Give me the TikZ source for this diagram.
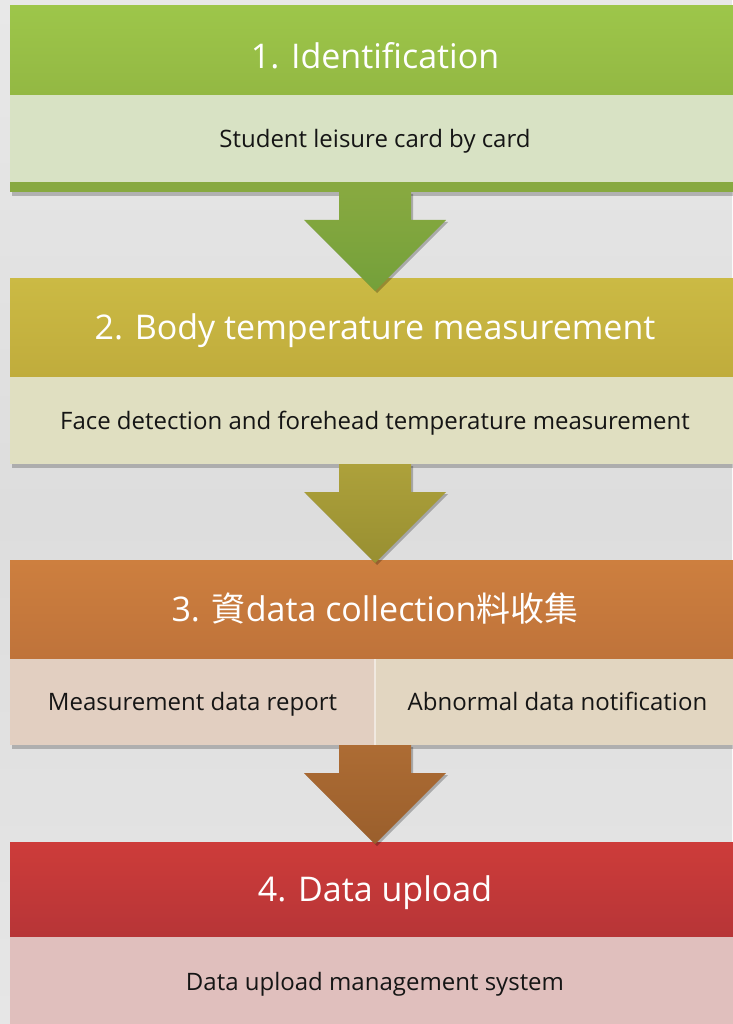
\documentclass[tikz,border=0pt]{standalone}
\usepackage{fontspec}
\setmainfont{Open Sans}
\newfontfamily\cjk{Noto Sans CJK TC}
\usetikzlibrary{calc,shadows}
\definecolor{bgA}{HTML}{E8E8E8}
\definecolor{bgB}{HTML}{DDDDDD}
\definecolor{bgC}{HTML}{E6E6E6}
\definecolor{gA}{HTML}{9DC64A}
\definecolor{gB}{HTML}{93B843}
\definecolor{gBody}{HTML}{D8E2C4}
\definecolor{gStrip}{HTML}{87A940}
\definecolor{gArA}{HTML}{87A940}
\definecolor{gArB}{HTML}{74A03A}
\definecolor{yA}{HTML}{CBBA44}
\definecolor{yB}{HTML}{C0AC3C}
\definecolor{yBody}{HTML}{E0DFC1}
\definecolor{yArA}{HTML}{ADA13B}
\definecolor{yArB}{HTML}{988F31}
\definecolor{oA}{HTML}{CD7F3F}
\definecolor{oB}{HTML}{BF733A}
\definecolor{oBodyL}{HTML}{E2CFC1}
\definecolor{oBodyR}{HTML}{E2D6C1}
\definecolor{oArA}{HTML}{AD6C34}
\definecolor{oArB}{HTML}{9A5F2C}
\definecolor{rA}{HTML}{CD3C3A}
\definecolor{rB}{HTML}{B73537}
\definecolor{rBody}{HTML}{E0BFBD}
\definecolor{txt}{HTML}{151515}
\tikzset{
  hdrtext/.style={text=white, font=\fontsize{34}{40}\selectfont, text height=24.5pt, text depth=0pt},
  hdr/.style={hdrtext, anchor=north west, minimum width=730pt, inner sep=0pt, outer sep=0pt},
  det/.style={anchor=north west, minimum width=730pt, inner sep=0pt, outer sep=0pt,
    text=txt, font=\fontsize{24}{29}\selectfont, text height=17.3pt, text depth=0pt},
  boxshadow/.style={fill=black, opacity=0.22},
  blockarrow/.style={drop shadow={shadow xshift=2pt, shadow yshift=-2pt, opacity=0.25, fill=black}}
}
\newcommand{\downarrowat}[3]{%
  \path[blockarrow, top color=#2, bottom color=#3]
    (#1) ++(-36,0) -- ++(0,28) -- ++(-35,0) -- ++(71,71) -- ++(71,-71) -- ++(-35,0) -- ++(0,-28) -- cycle;}
\begin{document}
\begin{tikzpicture}[x=1pt,y=-1pt]
\useasboundingbox (0,0) rectangle (732,1024);
\shade[top color=bgA, bottom color=bgC, middle color=bgB] (0,0) rectangle (732,1024);

% ---- step 1
\fill[boxshadow] (12,9) rectangle (744,196);
\fill[gStrip] (10,6) rectangle (742,192);
\node[hdr, minimum height=89pt, top color=gA, bottom color=gB] (h1) at (10,6) {};
\node[hdrtext, inner sep=0pt] (t1) at ($(h1.center)+(0,6)$) {1. Identification};
\node[det, minimum height=87pt, fill=gBody] (d1) at (h1.south west) {Student leisure card by card};
\coordinate (s1) at (375,192);

% ---- step 2
\fill[boxshadow] (12,281) rectangle (744,468);
\node[hdr, minimum height=99pt, top color=yA, bottom color=yB] (h2) at (10,278) {2. Body temperature measurement};
\node[det, minimum height=87pt, fill=yBody] (d2) at (h2.south west) {Face detection and forehead temperature measurement};

% ---- step 3
\fill[boxshadow] (12,563) rectangle (744,749);
\node[hdr, minimum height=99pt, top color=oA, bottom color=oB] (h3) at (10,560) {3. {\cjk 資}data collection{\cjk 料收集}};
\node[det, minimum width=365pt, minimum height=86pt, fill=oBodyL] (d3a) at (h3.south west) {Measurement data report};
\node[det, minimum width=365pt, minimum height=86pt, fill=oBodyR] (d3b) at (d3a.north east) {Abnormal data notification};
\draw[white, opacity=0.5, line width=1.2pt] (d3a.north east) -- (d3a.south east);

% ---- step 4
\fill[boxshadow] (12,845) rectangle (744,1030);
\node[hdr, minimum height=95pt, top color=rA, bottom color=rB] (h4) at (10,842) {4. Data upload};
\node[det, minimum height=90pt, fill=rBody] (d4) at (h4.south west) {Data upload management system};

% ---- arrows
\downarrowat{s1}{gArA}{gArB}
\downarrowat{d2.south}{yArA}{yArB}
\downarrowat{d3a.south east}{oArA}{oArB}
\end{tikzpicture}
\end{document}
